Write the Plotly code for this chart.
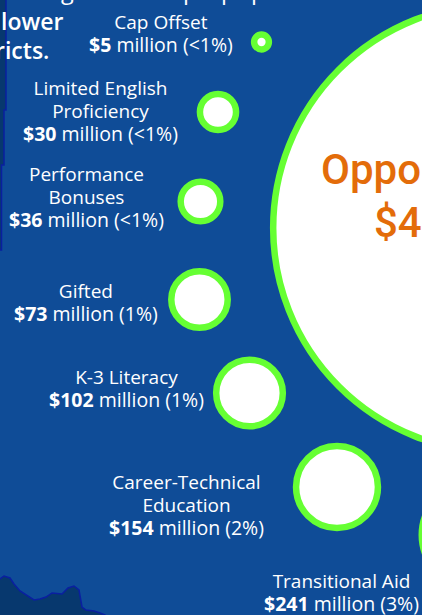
import plotly.graph_objects as go
import math

# Data
programs = ["Opportunity Grant", "Cap Offset", "Limited English<br>Proficiency", "Performance<br>Bonuses", "Gifted",
            "K-3 Literacy", "Career-Technical<br>Education", "Transitional Aid"]
amount_millions = [4600, 5, 30, 36, 73, 102, 154, 241]
shares = ["", "<1%", "<1%", "<1%", "1%", "1%", "2%", "3%"]

# Layout placement (pixels of the page)
bubble_x = [497, 261.5, 218, 200.5, 199.5, 249.5, 337, 473]
bubble_y = [228, 42, 112, 201.5, 299.5, 393, 487, 535]
label_x = [None, 161, 100.5, 86, 86, 126, 186.5, 341.5]
label_y = [None, 33.5, 111, 197, 302.5, 388.5, 505, 592.5]

BG = "#0f4c97"
GREEN = "#66ff33"
ORANGE = "#e36c0a"
DARK = "#07386e"
EDGE = "#0a1fa0"
FONT = "Open Sans"
SIZE_K = 6.6

map_south_x = [0, 4, 10, 14, 20, 28, 34, 40, 46, 52, 58, 62, 68, 74, 79, 81, 82, 86, 94, 100, 105, 105, 0]
map_south_y = [579, 576, 578, 584, 591, 596, 600, 599, 597, 593, 594, 594, 588, 586, 590, 600, 607, 610, 611, 613, 615, 620, 620]
map_west_x = [-2, 6, 6, 4, 4, 1.5, 1.5, -2]
map_west_y = [-2, -2, 110, 110, 165, 165, 250, 250]

fig = go.Figure()
for xs, ys in ((map_south_x, map_south_y), (map_west_x, map_west_y)):
    fig.add_trace(go.Scatter(x=xs, y=ys, mode="lines", fill="toself", fillcolor=DARK,
                             line=dict(color=EDGE, width=1.5), hoverinfo="skip", showlegend=False))

fig.add_trace(go.Scatter(
    x=bubble_x, y=bubble_y, mode="markers", showlegend=False, text=programs,
    marker=dict(size=[SIZE_K * math.sqrt(v) for v in amount_millions], sizemode="diameter",
                color="white", opacity=1, line=dict(color=GREEN, width=6.5)),
))

ann = []
for name, v, s, x, y in zip(programs, amount_millions, shares, label_x, label_y):
    if x is None:
        continue
    lines = [f'<span style="font-size:19px">{part}</span>' for part in name.split("<br>")]
    lines.append(f'<span style="font-size:19.5px"><b>${v}</b> million ({s})</span>')
    ann.append(dict(x=x, y=y, xref="x", yref="y", showarrow=False, xanchor="center", yanchor="middle",
                    align="center", text="<br>".join(lines),
                    font=dict(family=FONT, size=17.7, color="white", weight=500)))

# Big bubble label runs off the page
ann.append(dict(x=319, y=169, xref="x", yref="y", showarrow=False, xanchor="left", yanchor="middle",
                text="Opportunity Grant", font=dict(family="Roboto", size=42, color=ORANGE, weight=500)))
ann.append(dict(x=372, y=222, xref="x", yref="y", showarrow=False, xanchor="left", yanchor="middle",
                text="$4.6 billion", font=dict(family="Roboto", size=42, color=ORANGE, weight=500)))

# Cropped headline fragments
ann.append(dict(x=65, y=21, xref="x", yref="y", showarrow=False, xanchor="right", yanchor="middle",
                text="lower", font=dict(family=FONT, size=23, color="white", weight=600)))
ann.append(dict(x=51, y=50, xref="x", yref="y", showarrow=False, xanchor="right", yanchor="middle",
                text="districts.", font=dict(family=FONT, size=23, color="white", weight=600)))
for ch, x in (("g", 67), ("p", 190), ("p", 228), ("p", 258)):
    ann.append(dict(x=x, y=1.0, xref="x", yref="paper", showarrow=False, xanchor="center", yanchor="bottom",
                    yshift=-8, text=ch, font=dict(family=FONT, size=23.5, color="white", weight=500)))

fig.update_layout(
    width=422, height=615, margin=dict(l=0, r=0, t=0, b=0),
    paper_bgcolor=BG, plot_bgcolor=BG, annotations=ann, showlegend=False,
    xaxis=dict(range=[0, 422], visible=False, fixedrange=True),
    yaxis=dict(range=[615, 0], visible=False, fixedrange=True),
)
fig.write_html("out.html", config=dict(displayModeBar=False),
               post_script="document.body.style.margin='0';document.body.style.overflow='hidden';document.documentElement.style.overflow='hidden';")
